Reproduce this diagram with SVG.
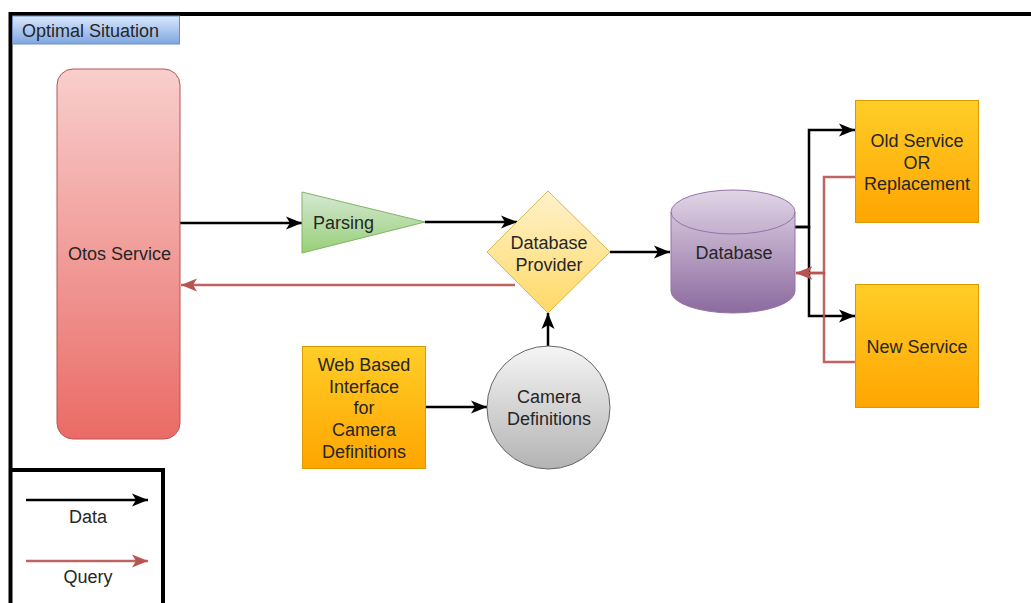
<svg xmlns="http://www.w3.org/2000/svg" width="1031" height="603" viewBox="0 0 1031 603">
  <defs>
    <linearGradient id="gTitle" x1="0" y1="0" x2="0" y2="1"><stop offset="0" stop-color="#dae8fc"/><stop offset="1" stop-color="#7ea6e0"/></linearGradient>
    <linearGradient id="gRed" x1="0" y1="0" x2="0" y2="1"><stop offset="0" stop-color="#f8cecc"/><stop offset="1" stop-color="#ea6b66"/></linearGradient>
    <linearGradient id="gGreen" x1="0" y1="0" x2="0" y2="1"><stop offset="0" stop-color="#d5e8d4"/><stop offset="1" stop-color="#97d077"/></linearGradient>
    <linearGradient id="gYellow" x1="0" y1="0" x2="0" y2="1"><stop offset="0" stop-color="#fff2cc"/><stop offset="1" stop-color="#ffd966"/></linearGradient>
    <linearGradient id="gPurple" x1="0" y1="0" x2="0" y2="1"><stop offset="0" stop-color="#e1d5e7"/><stop offset="1" stop-color="#8c6a9e"/></linearGradient>
    <linearGradient id="gOrange" x1="0" y1="0" x2="0" y2="1"><stop offset="0" stop-color="#ffcd28"/><stop offset="1" stop-color="#ffa500"/></linearGradient>
    <linearGradient id="gGray" x1="0" y1="0" x2="0" y2="1"><stop offset="0" stop-color="#f5f5f5"/><stop offset="1" stop-color="#b3b3b3"/></linearGradient>
    <marker id="aBlack" markerUnits="userSpaceOnUse" markerWidth="18" markerHeight="16" viewBox="0 0 18 16" refX="17" refY="8" orient="auto">
      <path d="M1,1.5 L17,8 L1,14.5 L5,8 Z" fill="#000"/>
    </marker>
    <marker id="aRed" markerUnits="userSpaceOnUse" markerWidth="18" markerHeight="16" viewBox="0 0 18 16" refX="17" refY="8" orient="auto">
      <path d="M1,1.5 L17,8 L1,14.5 L5,8 Z" fill="#b85450"/>
    </marker>
  </defs>
  <style>
    text { font-family: "Liberation Sans", Arial, sans-serif; font-size: 18px; fill: #262626; }
    .c { text-anchor: middle; }
    .frame { fill: none; stroke: #000; stroke-width: 4; }
    .data { fill: none; stroke: #000; stroke-width: 2.5; marker-end: url(#aBlack); }
    .query { fill: none; stroke: #b85450; stroke-width: 2.5; stroke-opacity: 0.9; marker-end: url(#aRed); }
    .orange { fill: url(#gOrange); stroke: #d79b00; stroke-width: 1; }
  </style>

  <rect width="1031" height="603" fill="#fff"/>

  <!-- outer frame and title -->
  <g id="frame">
    <path class="frame" d="M10.5,603 V14 H1031"/>
    <rect x="12.5" y="16" width="167" height="28" fill="url(#gTitle)" stroke="#6c8ebf"/>
    <text x="22" y="37">Optimal Situation</text>
  </g>

  <!-- connectors -->
  <g id="connectors">
    <path class="data" d="M180,223 H302"/>
    <path class="data" d="M425,222 H517"/>
    <path class="query" d="M515,285 H181"/>
    <path class="data" d="M610,252 H670"/>
    <path class="data" d="M795,227 H809 V130 H855"/>
    <path class="data" d="M795,227 H809 V316 H855"/>
    <path class="query" d="M855,177 H824 V273 H796"/>
    <path class="query" d="M855,362 H824 V273 H796"/>
    <path class="data" d="M426,407 H487"/>
    <path class="data" d="M548,346 V313"/>
  </g>

  <g id="otos">
    <rect x="57" y="69" width="123" height="370" rx="16" fill="url(#gRed)" stroke="#b85450"/>
    <text class="c" x="119.5" y="260">Otos Service</text>
  </g>

  <g id="parsing">
    <path d="M302,192 L425,222 L302,253 Z" fill="url(#gGreen)" stroke="#82b366"/>
    <text x="313" y="229">Parsing</text>
  </g>

  <g id="provider">
    <path d="M548,191 L610,252 L548,313 L487,252 Z" fill="url(#gYellow)" stroke="#d6b656"/>
    <text class="c" x="549" y="248.5">Database</text>
    <text class="c" x="549" y="270.5">Provider</text>
  </g>

  <g id="database">
    <path d="M671,212 A62,22 0 0 1 795,212 V291 A62,22 0 0 1 671,291 Z" fill="url(#gPurple)" stroke="#9673a6"/>
    <path d="M671,212 A62,22 0 0 0 795,212" fill="none" stroke="#9673a6"/>
    <text class="c" x="734" y="259">Database</text>
  </g>

  <g id="old-service">
    <rect class="orange" x="855.5" y="100.5" width="123" height="122"/>
    <text class="c" x="917" y="146.5">Old Service</text>
    <text class="c" x="917" y="168.5">OR</text>
    <text class="c" x="917" y="189.5">Replacement</text>
  </g>

  <g id="new-service">
    <rect class="orange" x="855.5" y="284.5" width="123" height="123"/>
    <text class="c" x="917" y="352.5">New Service</text>
  </g>

  <g id="web-interface">
    <rect class="orange" x="302.5" y="346.5" width="123" height="122"/>
    <text class="c" x="364" y="371">Web Based</text>
    <text class="c" x="364" y="393">Interface</text>
    <text class="c" x="364" y="414">for</text>
    <text class="c" x="364" y="436">Camera</text>
    <text class="c" x="364" y="458">Definitions</text>
  </g>

  <g id="camera-definitions">
    <circle cx="548.5" cy="407.5" r="61.5" fill="url(#gGray)" stroke="#666"/>
    <text class="c" x="549" y="403">Camera</text>
    <text class="c" x="549" y="425">Definitions</text>
  </g>

  <!-- legend -->
  <g id="legend">
    <path class="frame" d="M10.5,470 H163 V603"/>
    <path class="data" d="M26,500 H148"/>
    <text class="c" x="88" y="523">Data</text>
    <path class="query" d="M26,561 H148"/>
    <text class="c" x="88" y="583">Query</text>
  </g>
</svg>
